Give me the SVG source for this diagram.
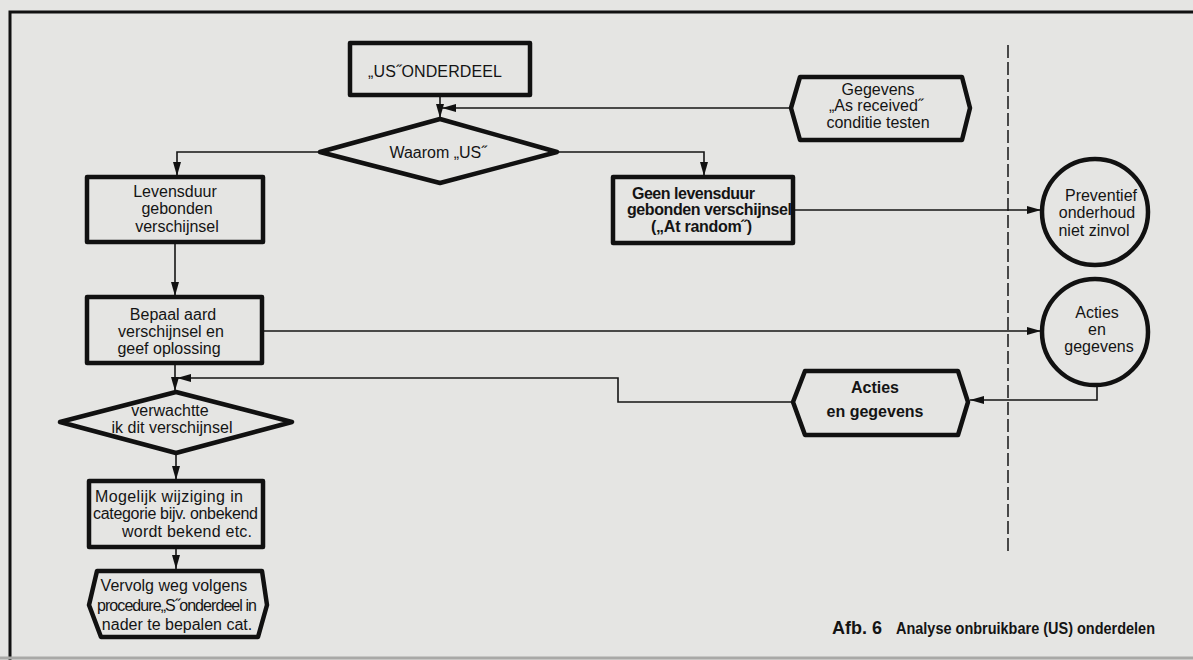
<svg xmlns="http://www.w3.org/2000/svg" width="1193" height="660" viewBox="0 0 1193 660">
  <style>
    .page { fill: #e5e5e3; }
    .frame { fill: none; stroke: #111; stroke-width: 3; }
    .node { fill: none; stroke: #111; stroke-width: 4.5; stroke-linejoin: round; }
    .conn { fill: none; stroke: #151515; stroke-width: 1.6; }
    .dash { fill: none; stroke: #222; stroke-width: 1.6; stroke-dasharray: 13 4; }
    .t { font-family: "Liberation Sans", Arial, sans-serif; font-size: 16px; fill: #141414; text-anchor: middle; }
    .b { font-weight: bold; }
    .cap { font-family: "Liberation Sans", Arial, sans-serif; font-size: 18px; font-weight: bold; fill: #141414; }
  </style>
  <defs>
    <marker id="arr" viewBox="0 0 14 8" refX="14" refY="4" markerWidth="14" markerHeight="8" orient="auto" markerUnits="userSpaceOnUse">
      <path d="M0,0 L14,4 L0,8 z" fill="#111"/>
    </marker>
  </defs>

  <!-- page and frame -->
  <rect class="page" x="0" y="0" width="1193" height="660"/>
  <path class="frame" d="M10,660 V12 H1193"/>
  <line x1="0" y1="658" x2="1193" y2="658" stroke="#a9a9a7" stroke-width="3"/>

  <!-- boundary between the analysis and its results -->
  <line class="dash" x1="1008" y1="45" x2="1008" y2="555"/>

  <!-- connectors -->
  <g id="connectors">
    <path class="conn" d="M440,95 V118" marker-end="url(#arr)"/>
    <path class="conn" d="M790,108 H442" marker-end="url(#arr)"/>
    <path class="conn" d="M320,152 H177 V176" marker-end="url(#arr)"/>
    <path class="conn" d="M557,152 H704 V176" marker-end="url(#arr)"/>
    <path class="conn" d="M175,242 V296" marker-end="url(#arr)"/>
    <path class="conn" d="M793,210 H1041" marker-end="url(#arr)"/>
    <path class="conn" d="M262,331 H1041" marker-end="url(#arr)"/>
    <path class="conn" d="M175,363 V391" marker-end="url(#arr)"/>
    <path class="conn" d="M1097,386 V400 H970" marker-end="url(#arr)"/>
    <path class="conn" d="M793,402 H618 V378 H177" marker-end="url(#arr)"/>
    <path class="conn" d="M176,453 V480" marker-end="url(#arr)"/>
    <path class="conn" d="M176,547 V569" marker-end="url(#arr)"/>
  </g>

  <!-- nodes -->
  <g id="us-onderdeel">
    <rect class="node" x="350" y="43" width="180" height="52"/>
    <text class="t" x="435" y="77" textLength="134">„US˝ONDERDEEL</text>
  </g>

  <g id="waarom-us">
    <polygon class="node" points="440,119 557,152 440,183 320,152"/>
    <text class="t" x="438" y="158">Waarom „US˝</text>
  </g>

  <g id="gegevens-as-received">
    <polygon class="node" points="800,77 962,77 970,108 962,140 800,140 791,108"/>
    <text class="t" x="878" y="95">Gegevens</text>
    <text class="t" x="876" y="111">„As received˝</text>
    <text class="t" x="878" y="128">conditie testen</text>
  </g>

  <g id="levensduur-gebonden">
    <rect class="node" x="87" y="177" width="176" height="65"/>
    <text class="t" x="175" y="197">Levensduur</text>
    <text class="t" x="177" y="214">gebonden</text>
    <text class="t" x="177" y="232">verschijnsel</text>
  </g>

  <g id="geen-levensduur">
    <rect class="node" x="613" y="177" width="180" height="66"/>
    <text class="t b" x="632" y="199" style="text-anchor:start" textLength="123">Geen levensduur</text>
    <text class="t b" x="627" y="215" style="text-anchor:start" textLength="165">gebonden verschijnsel</text>
    <text class="t b" x="651" y="232" style="text-anchor:start" textLength="101">(„At random˝)</text>
  </g>

  <g id="preventief-onderhoud">
    <circle class="node" cx="1095" cy="212" r="53"/>
    <text class="t" x="1101" y="201">Preventief</text>
    <text class="t" x="1097" y="218">onderhoud</text>
    <text class="t" x="1094" y="236">niet zinvol</text>
  </g>

  <g id="bepaal-aard">
    <rect class="node" x="87" y="297" width="175" height="66"/>
    <text class="t" x="173" y="320">Bepaal aard</text>
    <text class="t" x="171" y="337">verschijnsel en</text>
    <text class="t" x="169" y="354">geef oplossing</text>
  </g>

  <g id="acties-gegevens-uit">
    <circle class="node" cx="1095" cy="332" r="53"/>
    <text class="t" x="1097" y="318">Acties</text>
    <text class="t" x="1097" y="335">en</text>
    <text class="t" x="1099" y="352">gegevens</text>
  </g>

  <g id="acties-gegevens-in">
    <polygon class="node" points="805,371 958,371 968,402 958,435 805,435 793,402"/>
    <text class="t b" x="875" y="393">Acties</text>
    <text class="t b" x="875" y="417">en gegevens</text>
  </g>

  <g id="verwachtte">
    <polygon class="node" points="176,392 292,422 176,453 60,422"/>
    <text class="t" x="170" y="416">verwachtte</text>
    <text class="t" x="172" y="433">ik dit verschijnsel</text>
  </g>

  <g id="mogelijk-wijziging">
    <rect class="node" x="89" y="481" width="174" height="66"/>
    <text class="t" x="95" y="502" style="text-anchor:start" textLength="148">Mogelijk wijziging in</text>
    <text class="t" x="93" y="519" style="text-anchor:start" textLength="165">categorie bijv. onbekend</text>
    <text class="t" x="122" y="537" style="text-anchor:start" textLength="130">wordt bekend etc.</text>
  </g>

  <g id="vervolg-weg">
    <polygon class="node" points="97,571 262,571 267,605 258,637 101,637 89,605"/>
    <text class="t" x="174" y="591">Vervolg weg volgens</text>
    <text class="t" x="177" y="611" textLength="160">procedure„S˝onderdeel in</text>
    <text class="t" x="177" y="630">nader te bepalen cat.</text>
  </g>

  <!-- caption -->
  <text class="cap" x="832" y="634">Afb. 6</text>
  <text class="cap" x="896" y="634" style="font-size:16.5px" textLength="259" lengthAdjust="spacingAndGlyphs">Analyse onbruikbare (US) onderdelen</text>
</svg>
